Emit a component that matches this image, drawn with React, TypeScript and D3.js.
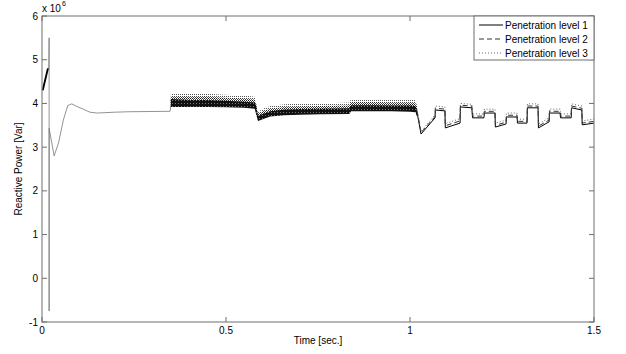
import * as d3 from "d3";

// ── Data (values in 10^6 Var) ─────────────────────────────────────────────────
const xTicks = [0, 0.5, 1, 1.5];
const yTicks = [-1, 0, 1, 2, 3, 4, 5, 6];
const seriesNames = ["Penetration level 1", "Penetration level 2", "Penetration level 3"];

// start-up transient, identical for all three levels
const startTime = [0.002, 0.016, 0.0185, 0.0194, 0.0194, 0.0194, 0.033, 0.045, 0.058, 0.07, 0.081, 0.095, 0.112, 0.13, 0.149, 0.2, 0.239, 0.348, 0.35];
const startValue = [4.3, 4.8, 4.78, 5.5, -0.75, 3.43, 2.8, 3.1, 3.62, 3.95, 3.99, 3.93, 3.87, 3.8, 3.78, 3.8, 3.81, 3.82, 3.95];

// noisy switching band 0.35 .. 1.02 s (min / max envelope per level)
const bandTime = [0.35, 0.4, 0.45, 0.5, 0.55, 0.578, 0.582, 0.587, 0.6, 0.62, 0.66, 0.7, 0.76, 0.835, 0.84, 0.9, 0.95, 1.0, 1.015, 1.019];
const band1Lo = [3.92, 3.92, 3.92, 3.91, 3.9, 3.88, 3.75, 3.6, 3.64, 3.7, 3.73, 3.74, 3.75, 3.76, 3.82, 3.82, 3.82, 3.81, 3.8, 3.7];
const band1Hi = [4.1, 4.08, 4.08, 4.06, 4.04, 4.02, 3.94, 3.72, 3.76, 3.82, 3.86, 3.87, 3.88, 3.89, 3.96, 3.96, 3.95, 3.95, 3.94, 3.85];
const band2Lo = [3.93, 3.93, 3.93, 3.92, 3.91, 3.89, 3.78, 3.61, 3.66, 3.72, 3.75, 3.76, 3.77, 3.78, 3.83, 3.84, 3.84, 3.83, 3.82, 3.72];
const band2Hi = [4.16, 4.15, 4.15, 4.13, 4.11, 4.09, 3.97, 3.76, 3.82, 3.88, 3.92, 3.93, 3.94, 3.95, 4.03, 4.03, 4.02, 4.02, 4.01, 3.9];
const band3Lo = [3.95, 3.95, 3.94, 3.93, 3.92, 3.9, 3.8, 3.62, 3.68, 3.74, 3.77, 3.78, 3.79, 3.8, 3.85, 3.86, 3.86, 3.85, 3.84, 3.75];
const band3Hi = [4.24, 4.22, 4.22, 4.2, 4.18, 4.15, 4.0, 3.8, 3.88, 3.94, 3.98, 4.0, 4.0, 4.02, 4.1, 4.1, 4.1, 4.08, 4.08, 3.95];

// stepped section 1.02 .. 1.5 s
const stepTime = [1.019, 1.03, 1.068, 1.069, 1.095, 1.096, 1.136, 1.137, 1.168, 1.17, 1.201, 1.202, 1.231, 1.232, 1.261, 1.262, 1.291, 1.292, 1.318, 1.319, 1.348, 1.349, 1.378, 1.379, 1.408, 1.409, 1.438, 1.439, 1.467, 1.468, 1.5];
const step1 = [3.8, 3.3, 3.67, 3.85, 3.83, 3.44, 3.55, 3.92, 3.9, 3.67, 3.67, 3.78, 3.78, 3.46, 3.53, 3.69, 3.69, 3.55, 3.55, 3.9, 3.9, 3.44, 3.58, 3.78, 3.78, 3.67, 3.67, 3.9, 3.85, 3.51, 3.55];
const step2 = [3.84, 3.33, 3.7, 3.89, 3.87, 3.49, 3.6, 3.96, 3.94, 3.71, 3.71, 3.82, 3.82, 3.5, 3.57, 3.73, 3.73, 3.59, 3.59, 3.94, 3.94, 3.48, 3.62, 3.82, 3.82, 3.71, 3.71, 3.94, 3.89, 3.55, 3.59];
const step3 = [3.88, 3.36, 3.74, 3.94, 3.92, 3.54, 3.65, 4.0, 3.98, 3.76, 3.76, 3.87, 3.87, 3.55, 3.62, 3.78, 3.78, 3.64, 3.64, 3.99, 3.99, 3.53, 3.67, 3.87, 3.87, 3.76, 3.76, 3.99, 3.94, 3.6, 3.64];

// ── Layout ────────────────────────────────────────────────────────────────────
const W = 626;
const H = 354;
const margin = { top: 16, right: 32, bottom: 32, left: 42 };
const FONT = "'Liberation Sans', Arial, sans-serif";
const AXIS = "#6e6e6e";

const x = d3.scaleLinear().domain([0, 1.5]).range([margin.left, W - margin.right]);
const y = d3.scaleLinear().domain([-1, 6]).range([H - margin.bottom, margin.top]);

const styles = [
  { stroke: "#000", dash: "none" },
  { stroke: "#333", dash: "5 3" },
  { stroke: "#666", dash: "1 2" },
];

type P = [number, number];
const zip = (t: number[], v: number[]): P[] => t.map((d, i) => [d, v[i]]);

const line = d3
  .line<P>()
  .x((d) => x(d[0]))
  .y((d) => y(d[1]));

const area = (lo: number[], hi: number[]) =>
  d3
    .area<number>()
    .x((d) => x(d))
    .y0((_, i) => y(lo[i]))
    .y1((_, i) => y(hi[i]))(bandTime) as string;

export default function App() {
  const x0 = margin.left;
  const x1 = W - margin.right;
  const y0 = H - margin.bottom;
  const y1 = margin.top;
  const steps = [step1, step2, step3];

  const lx = 474;
  const ly = 16;

  return (
    <svg
      width={W}
      height={H}
      style={{ position: "absolute", left: 0, top: 0, background: "#fff" }}
      fontFamily={FONT}
    >
      <defs>
        <pattern id="speck3" width="2" height="2" patternUnits="userSpaceOnUse">
          <rect x="0" y="0" width="1" height="1" fill="#555" />
        </pattern>
        <pattern id="speck2" width="2" height="2" patternUnits="userSpaceOnUse">
          <rect x="0" y="0" width="1" height="1" fill="#222" />
          <rect x="1" y="1" width="1" height="1" fill="#444" />
        </pattern>
        <pattern id="speck1" width="3" height="3" patternUnits="userSpaceOnUse">
          <rect x="0" y="0" width="3" height="3" fill="#111" />
          <rect x="1" y="1" width="1" height="1" fill="#777" />
        </pattern>
      </defs>

      {/* noisy envelopes */}
      <path d={area(band3Lo, band3Hi)} fill="url(#speck3)" />
      <path d={area(band2Lo, band2Hi)} fill="url(#speck2)" />
      <path d={area(band1Lo, band1Hi)} fill="url(#speck1)" />

      {/* start-up transient (all levels coincide) */}
      <path
        d={line(zip(startTime, startValue)) as string}
        fill="none"
        stroke="#777"
        strokeWidth={0.8}
      />
      <path
        d={line(zip(startTime.slice(0, 2), startValue.slice(0, 2))) as string}
        stroke="#000"
        strokeWidth={1.8}
        fill="none"
      />

      {/* stepped section per level */}
      {styles.map((s, i) => (
        <path
          key={i}
          d={line(zip(stepTime, steps[i])) as string}
          fill="none"
          stroke={s.stroke}
          strokeWidth={1}
          strokeDasharray={s.dash}
        />
      ))}

      {/* axes box */}
      <rect x={x0} y={y1} width={x1 - x0} height={y0 - y1} fill="none" stroke={AXIS} strokeWidth={1} />

      {yTicks.map((t) => (
        <g key={"y" + t}>
          <line x1={x0} x2={x0 + 5} y1={y(t)} y2={y(t)} stroke={AXIS} />
          <line x1={x1} x2={x1 - 5} y1={y(t)} y2={y(t)} stroke={AXIS} />
          <text x={x0 - 4} y={y(t)} dy="0.35em" textAnchor="end" fontSize={10} fill="#000">
            {t}
          </text>
        </g>
      ))}
      {xTicks.map((t) => (
        <g key={"x" + t}>
          <line x1={x(t)} x2={x(t)} y1={y0} y2={y0 - 5} stroke={AXIS} />
          <line x1={x(t)} x2={x(t)} y1={y1} y2={y1 + 5} stroke={AXIS} />
          <text x={x(t)} y={y0 + 12} textAnchor="middle" fontSize={10} fill="#000">
            {t}
          </text>
        </g>
      ))}

      {/* exponent */}
      <text x={x0} y={12} fontSize={10} fill="#000">
        x 10
      </text>
      <text x={x0 + 20} y={6} fontSize={7} fill="#000">
        6
      </text>

      {/* axis labels */}
      <text x={(x0 + x1) / 2} y={H - 10} textAnchor="middle" fontSize={10} fill="#000">
        Time [sec.]
      </text>
      <text
        transform={`translate(22,${(y0 + y1) / 2}) rotate(-90)`}
        textAnchor="middle"
        fontSize={10}
        fill="#000"
      >
        Reactive Power [Var]
      </text>

      {/* legend */}
      <rect x={lx} y={ly} width={x1 - lx} height={44} fill="#fff" stroke={AXIS} />
      {seriesNames.map((name, i) => (
        <g key={name}>
          <line
            x1={lx + 5}
            x2={lx + 29}
            y1={ly + 9 + i * 14}
            y2={ly + 9 + i * 14}
            stroke={styles[i].stroke}
            strokeDasharray={styles[i].dash}
          />
          <text x={lx + 31} y={ly + 9 + i * 14} dy="0.35em" fontSize={10} fill="#000">
            {name}
          </text>
        </g>
      ))}
    </svg>
  );
}
